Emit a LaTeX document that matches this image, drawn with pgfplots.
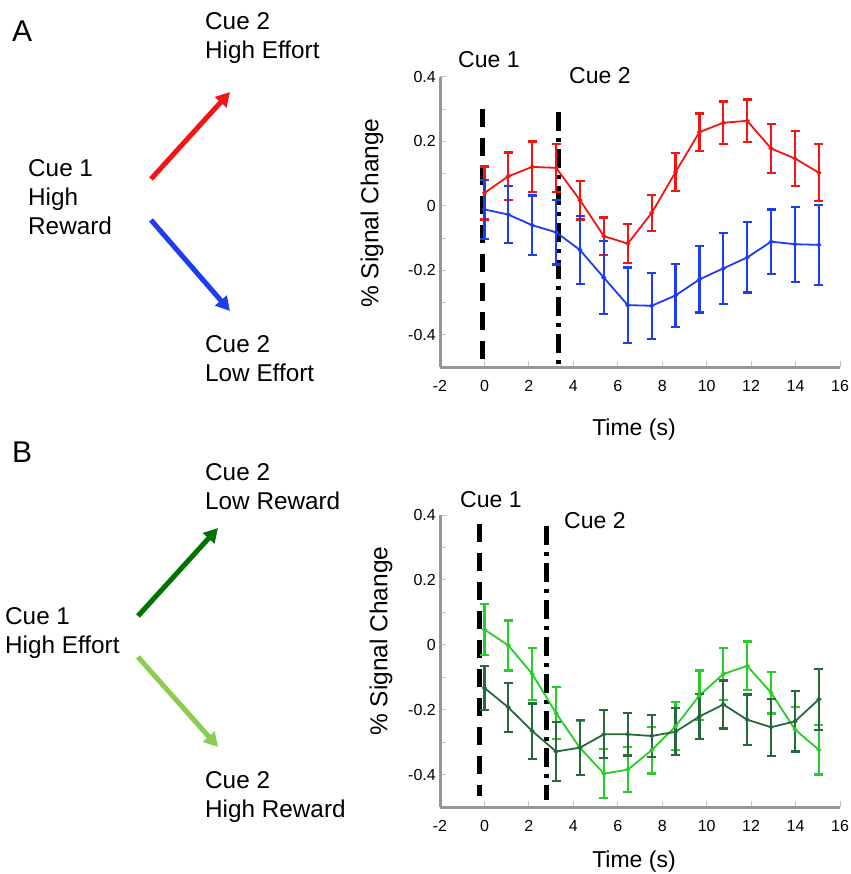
\documentclass[border=0pt]{standalone}
\usepackage{pgfplots}
\pgfplotsset{compat=1.18}
\usepackage{fontspec}
\setmainfont{Liberation Sans}
\usetikzlibrary{arrows.meta}

\definecolor{axgray}{RGB}{150,150,150}
\definecolor{tickgray}{RGB}{195,195,195}
\definecolor{hired}{RGB}{245,20,20}
\definecolor{loblue}{RGB}{30,60,240}
\definecolor{ltgreen}{RGB}{40,205,40}
\definecolor{dkgreen}{RGB}{40,105,60}
\definecolor{arrdark}{RGB}{0,115,0}
\definecolor{arrlight}{RGB}{140,205,80}

\newcommand\bigtxt{\fontsize{23}{28}\selectfont}
\newcommand\sidetxt{\fontsize{24.3}{29}\selectfont}

\pgfplotsset{
  cueaxis/.style={
    scale only axis, width=400pt, height=290pt,
    xmin=-2, xmax=16, ymin=-0.5, ymax=0.4,
    xtick={-2,0,...,16},
    ytick={-0.4,-0.2,0,0.2,0.4},
    minor ytick={-0.5,-0.3,-0.1,0.1,0.3},
    axis x line*=bottom, axis y line*=left,
    axis line style={draw=axgray, line width=3pt, -},
    tick style={draw=tickgray, line width=1pt},
    major tick length=6pt, minor tick length=6pt, tick align=inside,
    ticklabel style={font=\fontsize{16}{19}\selectfont},
    xticklabel style={yshift=-13pt},
    yticklabel style={xshift=-4pt, /pgf/number format/fixed},
    /pgf/number format/assume math mode=true,
    xlabel style={font=\bigtxt},
    ylabel style={font=\fontsize{24.5}{29}\selectfont},
    xlabel={Time (s)}, ylabel={\% Signal Change},
    clip=false,
  },
  mean/.style={line width=1.8pt, mark=*, mark size=1.4pt,
    error bars/.cd, y dir=both, y explicit,
    error bar style={line width=2.2pt, solid},
    error mark options={rotate=90, mark size=4.5pt, line width=2.2pt}},
  cueone/.style={black, line width=5pt, dash pattern=on 18pt off 11pt},
  cuetwo/.style={black, line width=5pt, dash pattern=on 19pt off 7pt on 4pt off 7pt},
}

\begin{document}
\begin{tikzpicture}[every node/.style={inner sep=0pt}]
\path[use as bounding box] (0pt,0pt) rectangle (850pt,-874pt);

% panel A, left diagram
\node[anchor=base west, font=\fontsize{30}{34}\selectfont] at (12pt,-42pt) {A};
\node[anchor=base west, font=\sidetxt] at (205pt,-30pt) {Cue 2};
\node[anchor=base west, font=\sidetxt] at (205pt,-59pt) {High Effort};
\node[anchor=base west, font=\sidetxt] at (28pt,-177pt) {Cue 1};
\node[anchor=base west, font=\sidetxt] at (28pt,-206pt) {High};
\node[anchor=base west, font=\sidetxt] at (28pt,-235pt) {Reward};
\node[anchor=base west, font=\sidetxt] at (205pt,-352pt) {Cue 2};
\node[anchor=base west, font=\sidetxt] at (205pt,-381pt) {Low Effort};
\draw[hired, line width=5pt, -{Triangle[length=14pt,width=15pt]}] (151pt,-179pt) -- (230pt,-92pt);
\draw[loblue, line width=5pt, -{Triangle[length=14pt,width=15pt]}] (151pt,-220pt) -- (230pt,-311pt);

% panel B, left diagram
\node[anchor=base west, font=\fontsize{30}{34}\selectfont] at (12pt,-462pt) {B};
\node[anchor=base west, font=\sidetxt] at (205pt,-480pt) {Cue 2};
\node[anchor=base west, font=\sidetxt] at (205pt,-509pt) {Low Reward};
\node[anchor=base west, font=\sidetxt] at (5pt,-624pt) {Cue 1};
\node[anchor=base west, font=\sidetxt] at (5pt,-653pt) {High Effort};
\node[anchor=base west, font=\sidetxt] at (205pt,-788pt) {Cue 2};
\node[anchor=base west, font=\sidetxt] at (205pt,-817pt) {High Reward};
\draw[arrdark, line width=5pt, -{Triangle[length=14pt,width=15pt]}] (138pt,-616pt) -- (218pt,-528pt);
\draw[arrlight, line width=5pt, -{Triangle[length=14pt,width=15pt]}] (138pt,-657pt) -- (218pt,-747pt);

% cue labels over the plots
\node[anchor=base west, font=\bigtxt] at (458pt,-68pt) {Cue 1};
\node[anchor=base west, font=\bigtxt] at (569pt,-84pt) {Cue 2};
\node[anchor=base west, font=\bigtxt] at (460pt,-507pt) {Cue 1};
\node[anchor=base west, font=\bigtxt] at (564pt,-528pt) {Cue 2};

% panel A plot
\begin{axis}[cueaxis, at={(440pt,-367pt)}, anchor=south west,
  xlabel style={at={(axis description cs:0.485,0)}, anchor=base, yshift=-68pt},
  ylabel style={at={(axis description cs:-0.17,0.531)}, anchor=center}]
\addplot[cueone] coordinates {(-0.1,0.30) (-0.1,-0.48)};
\addplot[cuetwo] coordinates {(3.35,0.29) (3.35,-0.49)};
\addplot[hired, mean] table[x=t, y=v, y error=e] {
t      v       e
0      0.040   0.082
1.075  0.092   0.074
2.15   0.121   0.079
3.225  0.118   0.074
4.3    0.018   0.060
5.375  -0.094  0.058
6.45   -0.117  0.060
7.525  -0.022  0.055
8.6    0.105   0.058
9.675  0.229   0.058
10.75  0.258   0.066
11.825 0.264   0.066
12.9   0.178   0.077
13.975 0.147   0.085
15.05  0.103   0.089
};
\addplot[loblue, mean] table[x=t, y=v, y error=e] {
t      v       e
0      -0.011  0.092
1.075  -0.027  0.089
2.15   -0.060  0.092
3.225  -0.082  0.100
4.3    -0.137  0.106
5.375  -0.223  0.113
6.45   -0.308  0.117
7.525  -0.310  0.102
8.6    -0.278  0.098
9.675  -0.228  0.103
10.75  -0.194  0.110
11.825 -0.160  0.109
12.9   -0.111  0.100
13.975 -0.119  0.116
15.05  -0.121  0.124
};
\end{axis}

% panel B plot
\begin{axis}[cueaxis, height=292pt, at={(440pt,-807pt)}, anchor=south west,
  xlabel style={at={(axis description cs:0.485,0)}, anchor=base, yshift=-60pt},
  ylabel style={at={(axis description cs:-0.1475,0.568)}, anchor=center}]
\addplot[cueone] coordinates {(-0.21,0.372) (-0.21,-0.467)};
\addplot[cuetwo] coordinates {(2.77,0.365) (2.77,-0.477)};
\addplot[ltgreen, mean] table[x=t, y=v, y error=e] {
t      v       e
0      0.047   0.078
1.075  -0.002  0.077
2.15   -0.090  0.080
3.225  -0.211  0.080
4.3    -0.318  0.083
5.375  -0.397  0.075
6.45   -0.385  0.069
7.525  -0.325  0.072
8.6    -0.251  0.074
9.675  -0.156  0.077
10.75  -0.090  0.080
11.825 -0.065  0.075
12.9   -0.148  0.064
13.975 -0.261  0.070
15.05  -0.324  0.076
};
\addplot[dkgreen, mean] table[x=t, y=v, y error=e] {
t      v       e
0      -0.133  0.067
1.075  -0.193  0.075
2.15   -0.266  0.085
3.225  -0.329  0.092
4.3    -0.317  0.084
5.375  -0.276  0.074
6.45   -0.276  0.065
7.525  -0.281  0.065
8.6    -0.268  0.072
9.675  -0.221  0.069
10.75  -0.184  0.074
11.825 -0.231  0.078
12.9   -0.254  0.088
13.975 -0.236  0.093
15.05  -0.168  0.094
};
\end{axis}
\end{tikzpicture}
\end{document}
